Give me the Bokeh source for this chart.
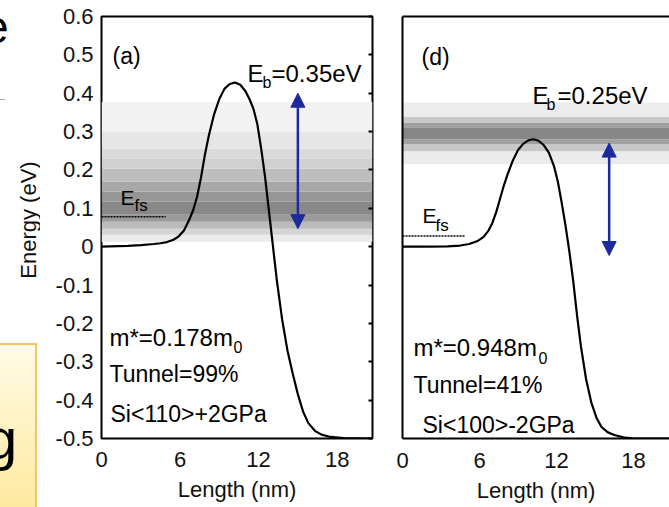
from bokeh.plotting import figure
from bokeh.layouts import row
from bokeh.models import Range1d, FixedTicker, LinearAxis, Label, BoxAnnotation, Arrow, NormalHead, Div
from bokeh.embed import file_html
from bokeh.resources import INLINE

FONT = "Liberation Sans"
BLUE = "#1c2a9e"

# ---------------- data ----------------
y_ticks = [-0.5, -0.4, -0.3, -0.2, -0.1, 0.0, 0.1, 0.2, 0.3, 0.4, 0.5, 0.6]
y_tick_labels = ["-0.5", "-0.4", "-0.3", "-0.2", "-0.1", "0", "0.1", "0.2", "0.3", "0.4", "0.5", "0.6"]
x_ticks = [0, 6, 12, 18]
x_tick_labels = ["0", "6", "12", "18"]
y_title = "Energy (eV)"
x_title = "Length (nm)"

# panel (a): Si<110> +2GPa
a_length = [0, 2.0, 3.0, 4.0, 4.5, 5.0, 5.5, 5.9, 6.3, 6.7, 7.0, 7.3, 7.6, 7.9, 8.2, 8.6, 9.0, 9.4, 9.8,
            10.2, 10.6, 11.0, 11.3, 11.6, 11.9, 12.2, 12.5, 12.8, 13.1, 13.4, 13.8, 14.2, 14.6, 15.0,
            15.4, 15.8, 16.3, 16.8, 17.5, 18.5, 20.7]
a_energy = [0, 0.002, 0.004, 0.007, 0.009, 0.012, 0.018, 0.027, 0.042, 0.07, 0.095, 0.13, 0.18, 0.24,
            0.29, 0.345, 0.385, 0.412, 0.424, 0.428, 0.422, 0.405, 0.385, 0.36, 0.32, 0.255, 0.18, 0.09,
            0.0, -0.09, -0.19, -0.27, -0.33, -0.385, -0.43, -0.46, -0.48, -0.49, -0.496, -0.499, -0.5]
a_band_edges = [0.013, 0.031, 0.047, 0.065, 0.083, 0.117, 0.143, 0.169, 0.203, 0.229, 0.255, 0.299, 0.377]
a_band_gray = [235, 213, 187, 154, 136, 150, 168, 190, 208, 218, 230, 242]
a_efs_length = [0, 4.9]
a_efs_energy = [0.078, 0.078]
a_arrow_length = [15.0, 15.0]
a_arrow_energy = [0.047, 0.40]

# panel (d): Si<100> -2GPa
d_length = [0, 2.0, 3.5, 4.5, 5.2, 5.8, 6.3, 6.7, 7.0, 7.3, 7.6, 7.9, 8.2, 8.6, 9.0, 9.4, 9.8, 10.2,
            10.6, 11.0, 11.4, 11.8, 12.1, 12.4, 12.7, 13.0, 13.3, 13.6, 13.9, 14.3, 14.7, 15.1, 15.5,
            16.0, 16.5, 17.2, 18.0, 20.8]
d_energy = [0, 0.0, 0.001, 0.003, 0.007, 0.014, 0.025, 0.042, 0.062, 0.09, 0.125, 0.16, 0.19, 0.225,
            0.252, 0.268, 0.277, 0.28, 0.276, 0.265, 0.245, 0.21, 0.17, 0.115, 0.055, -0.013, -0.09,
            -0.18, -0.26, -0.345, -0.405, -0.445, -0.47, -0.484, -0.491, -0.497, -0.5, -0.5]
d_band_edges = [0.215, 0.249, 0.267, 0.280, 0.311, 0.324, 0.339, 0.376]
d_band_gray = [235, 200, 160, 135, 160, 200, 236]
d_efs_length = [0, 4.9]
d_efs_energy = [0.028, 0.028]
d_arrow_length = [16.1, 16.1]
d_arrow_energy = [-0.023, 0.27]

# ---------------- helpers ----------------
def gray(v):
    return "#%02x%02x%02x" % (v, v, v)


def lab(p, text, cx, cy, fl, fb, size, color="black"):
    p.add_layout(Label(x=cx - fl, y=fb - cy, x_units="screen", y_units="screen", text=text,
                       text_font=FONT, text_font_size=f"{size}px", text_color=color,
                       text_baseline="alphabetic", text_align="left"))


def style_axis(ax, line=True):
    ax.major_tick_in = 0
    ax.major_tick_out = 0
    ax.minor_tick_in = 0
    ax.minor_tick_out = 0
    ax.axis_line_color = "black" if line else None
    ax.axis_line_width = 2
    ax.axis_label_text_font = FONT
    ax.axis_label_text_font_style = "normal"
    ax.axis_label_text_font_size = "22px"
    ax.axis_label_text_color = "#111111"
    ax.major_label_text_font = FONT
    ax.major_label_text_color = "#111111"
    ax.major_label_text_font_size = "22px"


def add_band(p, edges, grays):
    for i, g in enumerate(grays):
        p.add_layout(BoxAnnotation(bottom=edges[i], top=edges[i + 1], fill_color=gray(g), fill_alpha=1.0,
                                   line_color=None, level="underlay"))


def add_arrow(p, xs, ys):
    p.add_layout(Arrow(x_start=xs[0], y_start=ys[0], x_end=xs[1], y_end=ys[1],
                       start=NormalHead(size=14, fill_color=BLUE, line_color=BLUE, line_width=1),
                       end=NormalHead(size=14, fill_color=BLUE, line_color=BLUE, line_width=1),
                       line_color=BLUE, line_width=2.5))


# ---------------- left strip: slide remnants + y axis title ----------------
strip_html = f"""
<div style="position:relative;width:40px;height:507px;overflow:hidden;background:#ffffff;font-family:'{FONT}';">
  <div style="position:absolute;left:-3px;top:343px;width:40px;height:170px;border:2px solid #f6c463;
              background:linear-gradient(#fffbe6,#ffe99e);"></div>
  <span style="position:absolute;left:-17px;top:4px;font-size:46px;line-height:46px;color:#000;">e</span>
  <span style="position:absolute;left:-15px;top:410px;font-size:58px;line-height:58px;color:#000;">g</span>
  <div style="position:absolute;left:0px;top:99px;width:5px;height:1px;background:#aaaaaa;"></div>
  <span style="position:absolute;left:29px;top:220px;transform:translate(-50%,-50%) rotate(-90deg);
               white-space:nowrap;font-size:22px;line-height:22px;color:#111111;">{y_title}</span>
</div>
"""
strip = Div(text=strip_html, width=40, height=507, margin=(0, 0, 0, 0))

# ---------------- panel (a) ----------------
pa = figure(width=346, height=507, x_range=Range1d(0, 20.7), y_range=Range1d(-0.5, 0.6),
            output_backend="svg", toolbar_location=None,
            min_border_left=61, min_border_right=14, min_border_top=14, min_border_bottom=69)
pa.outline_line_color = "black"
pa.outline_line_width = 2
pa.outline_line_alpha = 1
pa.grid.visible = False
pa.border_fill_color = "white"

xa = pa.xaxis[0]
style_axis(xa, line=False)
xa.ticker = FixedTicker(ticks=x_ticks)
xa.major_label_overrides = dict(zip(x_ticks, x_tick_labels))
xa.major_label_standoff = 13
xa.axis_label = x_title
xa.axis_label_standoff = 7

ya = pa.yaxis[0]
style_axis(ya, line=False)
ya.ticker = FixedTicker(ticks=y_ticks)
ya.major_label_overrides = dict(zip(y_ticks, y_tick_labels))
ya.major_label_standoff = 8

ra = LinearAxis(ticker=FixedTicker(ticks=[], minor_ticks=y_ticks))
style_axis(ra, line=False)
ra.minor_tick_in = 4
ra.minor_tick_out = 0
ra.minor_tick_line_width = 2
ra.minor_tick_line_color = "black"
pa.add_layout(ra, "right")

add_band(pa, a_band_edges, a_band_gray)
pa.line(a_efs_length, a_efs_energy, line_color="black", line_width=1.6, line_dash="2 1")
pa.line(a_length, a_energy, line_color="black", line_width=2.2)
add_arrow(pa, a_arrow_length, a_arrow_energy)

FLa, FBa = 101, 438
lab(pa, "(a)", 112, 55, FLa, FBa, 23)
lab(pa, "E", 247, 73, FLa, FBa, 24)
lab(pa, "b", 262, 82, FLa, FBa, 16)
lab(pa, "=0.35eV", 271, 73, FLa, FBa, 24)
lab(pa, "E", 120, 197, FLa, FBa, 21)
lab(pa, "fs", 134, 205, FLa, FBa, 17)
lab(pa, "m*=0.178m", 109, 337, FLa, FBa, 24)
lab(pa, "0", 233, 346, FLa, FBa, 16)
lab(pa, "Tunnel=99%", 109, 373, FLa, FBa, 23)
lab(pa, "Si<110>+2GPa", 110, 413, FLa, FBa, 23)

# ---------------- panel (d) ----------------
pd = figure(width=283, height=507, x_range=Range1d(0, 20.8), y_range=Range1d(-0.5, 0.6),
            output_backend="svg", toolbar_location=None,
            min_border_left=16, min_border_right=0, min_border_top=16, min_border_bottom=66)
pd.outline_line_color = None
pd.grid.visible = False
pd.border_fill_color = "white"

xd = pd.xaxis[0]
style_axis(xd)
xd.ticker = FixedTicker(ticks=x_ticks)
xd.major_label_overrides = dict(zip(x_ticks, x_tick_labels))
xd.major_label_standoff = 14
xd.axis_label = x_title
xd.axis_label_standoff = 7

yd = pd.yaxis[0]
style_axis(yd)
yd.ticker = FixedTicker(ticks=[])

td = LinearAxis(ticker=FixedTicker(ticks=[]))
style_axis(td)
pd.add_layout(td, "above")

add_band(pd, d_band_edges, d_band_gray)
pd.line(d_efs_length, d_efs_energy, line_color="black", line_width=1.6, line_dash="2 1")
pd.line(d_length, d_energy, line_color="black", line_width=2.2)
add_arrow(pd, d_arrow_length, d_arrow_energy)

FLd, FBd = 402, 441
lab(pd, "(d)", 421, 59, FLd, FBd, 23)
lab(pd, "E", 532, 98, FLd, FBd, 24)
lab(pd, "b", 546, 107, FLd, FBd, 16)
lab(pd, "=0.25eV", 557, 98, FLd, FBd, 24)
lab(pd, "E", 422, 218, FLd, FBd, 21)
lab(pd, "fs", 435, 228, FLd, FBd, 17)
lab(pd, "m*=0.948m", 413, 350, FLd, FBd, 24)
lab(pd, "0", 538, 360, FLd, FBd, 16)
lab(pd, "Tunnel=41%", 413, 387, FLd, FBd, 23)
lab(pd, "Si<100>-2GPa", 422, 427, FLd, FBd, 23)

layout = row(strip, pa, pd)
open("out.html", "w").write(file_html(layout, INLINE))
